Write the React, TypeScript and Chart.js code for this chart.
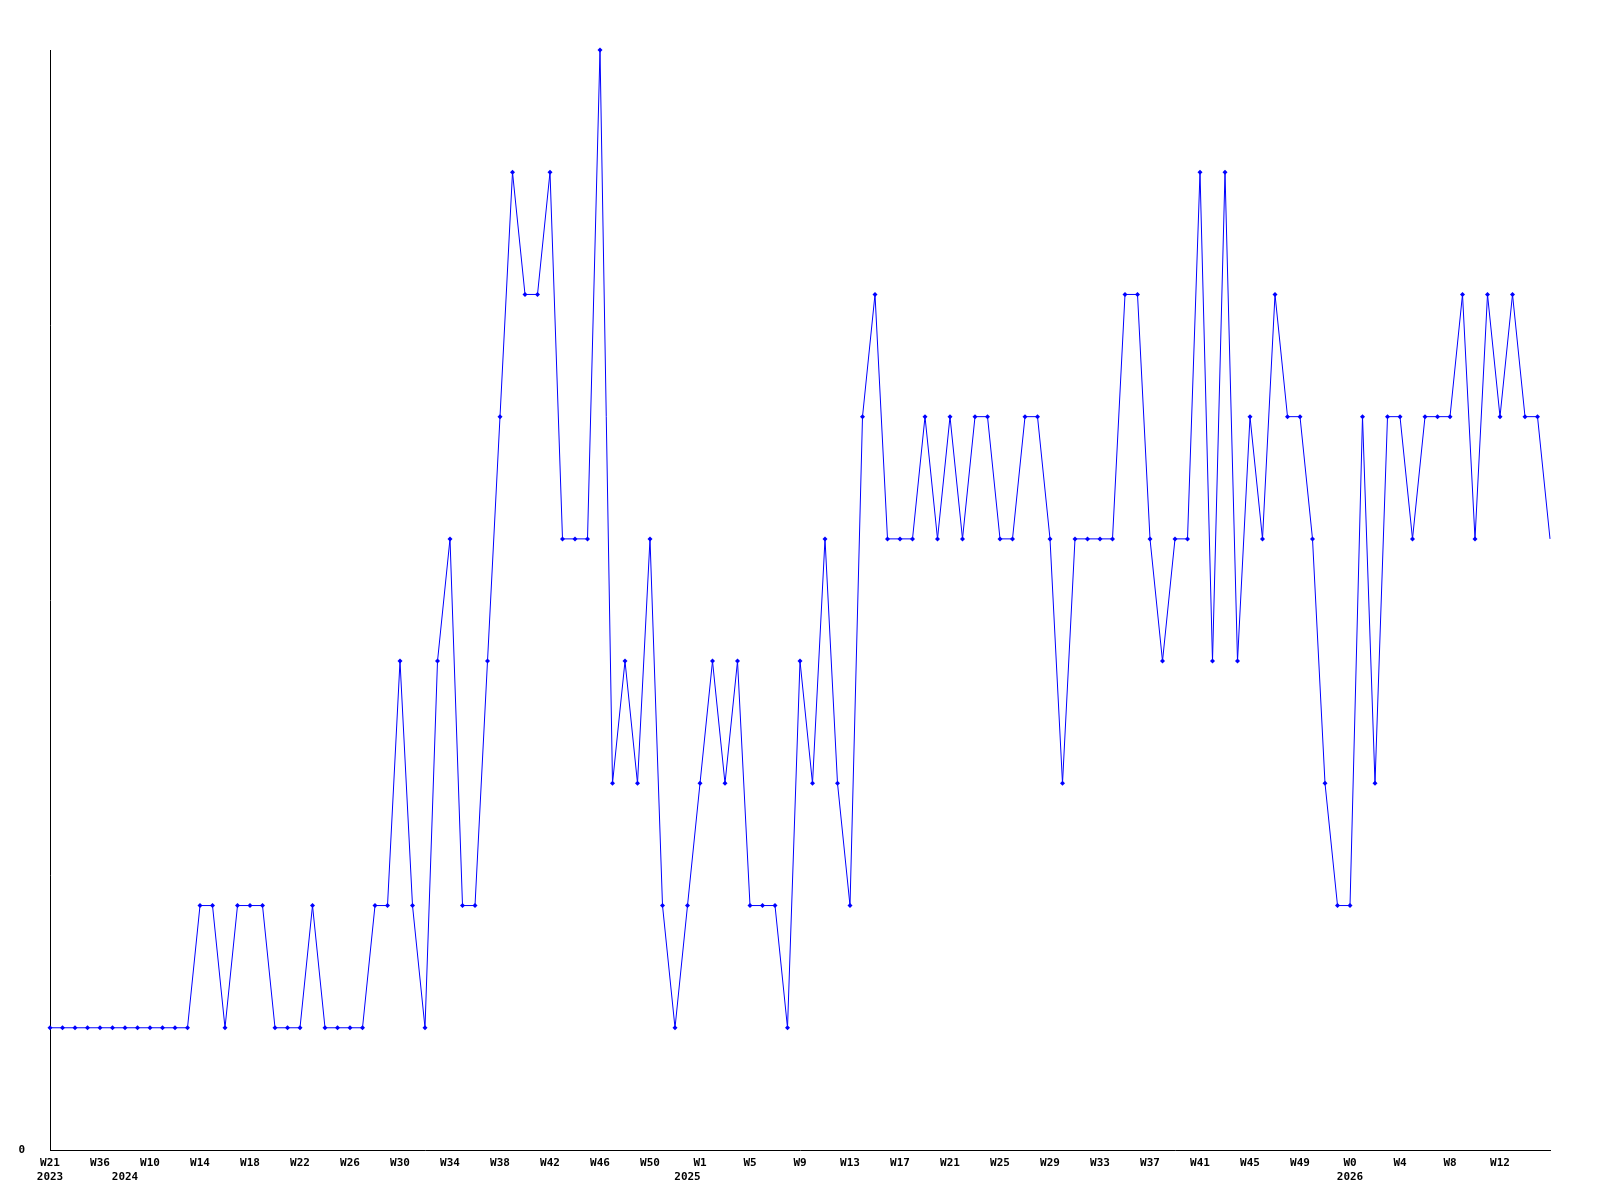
import React, { useEffect, useRef } from "react";
import { Chart, registerables } from "chart.js";

Chart.register(...registerables);

// Weekly counts, one value per week (121 points)
const values: number[] = [
  1, 1, 1, 1, 1, 1, 1, 1, 1, 1, 1, 1,
  2, 2, 1, 2, 2, 2, 1, 1, 1, 2, 1, 1,
  1, 1, 2, 2, 4, 2, 1, 4, 5, 2, 2, 4,
  6, 8, 7, 7, 8, 5, 5, 5, 9, 3, 4, 3,
  5, 2, 1, 2, 3, 4, 3, 4, 2, 2, 2, 1,
  4, 3, 5, 3, 2, 6, 7, 5, 5, 5, 6, 5,
  6, 5, 6, 6, 5, 5, 6, 6, 5, 3, 5, 5,
  5, 5, 7, 7, 5, 4, 5, 5, 8, 4, 8, 4,
  6, 5, 7, 6, 6, 5, 3, 2, 2, 6, 3, 6,
  6, 5, 6, 6, 6, 7, 5, 7, 6, 7, 6, 6, 5,
];

// Week tick labels, one every `tickStep` points
const weekTickLabels: string[] = [
  "W21", "W36", "W10", "W14", "W18", "W22", "W26", "W30", "W34", "W38",
  "W42", "W46", "W50", "W1", "W5", "W9", "W13", "W17", "W21", "W25",
  "W29", "W33", "W37", "W41", "W45", "W49", "W0", "W4", "W8", "W12",
];
const tickStep = 4;

// Year labels and the point index they sit under
const yearTickLabels: string[] = ["2023", "2024", "2025", "2026"];
const yearTickIndex: number[] = [0, 6, 51, 104];

const yMin = 0;
const yMax = 9;

const categories: string[] = values.map((_, i) =>
  i % tickStep === 0 && weekTickLabels[i / tickStep] ? weekTickLabels[i / tickStep] : String(i)
);

const tickFont = {
  family: "'DejaVu Sans Mono', monospace",
  size: 11,
  weight: "bold" as const,
  lineHeight: 14 / 11,
};

export default function App() {
  const canvasRef = useRef<HTMLCanvasElement | null>(null);

  useEffect(() => {
    const canvas = canvasRef.current;
    if (!canvas) return;
    const last = values.length - 1;
    const chart = new Chart(canvas, {
      type: "line",
      data: {
        labels: categories,
        datasets: [
          {
            data: values,
            borderColor: "#0000ff",
            backgroundColor: "#0000ff",
            borderWidth: 1,
            pointStyle: "rectRot",
            pointRadius: (ctx: any) => (ctx.dataIndex === last ? 0 : 2.5),
            pointBorderWidth: 0,
            pointBackgroundColor: "#0000ff",
            tension: 0,
            fill: false,
            clip: false as any,
          },
        ],
      },
      options: {
        animation: false,
        responsive: false,
        devicePixelRatio: 1,
        events: [],
        layout: { padding: { left: 0, right: 50, top: 50, bottom: 0 } },
        plugins: {
          legend: { display: false },
          tooltip: { enabled: false },
          title: { display: false },
        },
        scales: {
          x: {
            type: "category",
            offset: false,
            grid: { display: false, drawTicks: false },
            border: { display: true, color: "#000000", width: 1 },
            afterFit: (scale: any) => {
              scale.height = 50;
            },
            ticks: {
              autoSkip: false,
              maxRotation: 0,
              minRotation: 0,
              padding: 6,
              color: "#000000",
              font: tickFont,
              callback: (_v: any, index: number) => {
                const week =
                  index % tickStep === 0 && weekTickLabels[index / tickStep]
                    ? weekTickLabels[index / tickStep]
                    : "";
                const yi = yearTickIndex.indexOf(index);
                const year = yi >= 0 ? yearTickLabels[yi] : "";
                if (year) return [week, year];
                return week;
              },
            },
          },
          y: {
            type: "linear",
            min: yMin,
            max: yMax,
            grid: { display: false, drawTicks: false },
            border: { display: true, color: "#000000", width: 1 },
            afterFit: (scale: any) => {
              scale.width = 50;
            },
            afterBuildTicks: (scale: any) => {
              scale.ticks = [{ value: yMin }];
            },
            ticks: {
              padding: 25,
              color: "#000000",
              font: tickFont,
              callback: (v: any) => String(v),
            },
          },
        },
      },
    });
    return () => chart.destroy();
  }, []);

  return (
    <div
      style={{
        position: "absolute",
        left: 0,
        top: 0,
        width: 1600,
        height: 1200,
        background: "#ffffff",
      }}
    >
      <canvas ref={canvasRef} width={1600} height={1200} style={{ display: "block" }} />
    </div>
  );
}
